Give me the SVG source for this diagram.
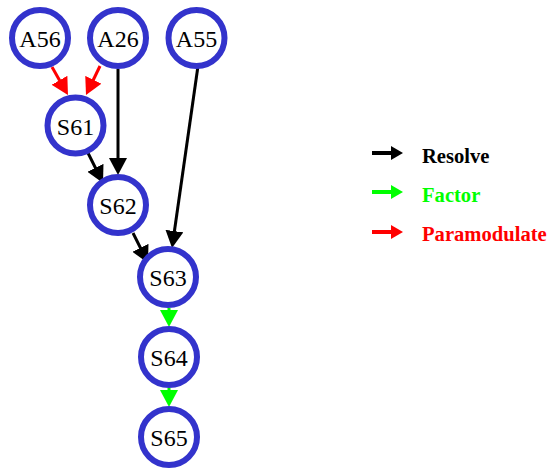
<svg xmlns="http://www.w3.org/2000/svg" width="553" height="472" viewBox="0 0 553 472">
  <style>
    .node circle { fill: #ffffff; stroke: #3333cc; stroke-width: 6; }
    .node text { font-family: "Liberation Serif", "Times New Roman", serif; font-size: 24px; fill: #000000; text-anchor: middle; dominant-baseline: central; }
    .edge { fill: none; stroke-width: 3; }
    .legend .edge { stroke-width: 4; }
    .resolve { stroke: #000000; }
    .factor { stroke: #00ff00; }
    .para { stroke: #ff0000; }
    .legend text { font-family: "Liberation Serif", "Times New Roman", serif; font-size: 20.6px; font-weight: bold; }
  </style>
  <defs>
    <marker id="ah-black" viewBox="0 0 17 18" refX="8" refY="9" markerWidth="17" markerHeight="18" markerUnits="userSpaceOnUse" orient="auto">
      <path d="M0,0 L17,9 L0,18 Z" fill="#000000"/>
    </marker>
    <marker id="ah-green" viewBox="0 0 17 18" refX="8" refY="9" markerWidth="17" markerHeight="18" markerUnits="userSpaceOnUse" orient="auto">
      <path d="M0,0 L17,9 L0,18 Z" fill="#00ff00"/>
    </marker>
    <marker id="ah-red" viewBox="0 0 17 18" refX="8" refY="9" markerWidth="17" markerHeight="18" markerUnits="userSpaceOnUse" orient="auto">
      <path d="M0,0 L17,9 L0,18 Z" fill="#ff0000"/>
    </marker>
    <marker id="lg-black" viewBox="0 0 12 14" refX="6" refY="7" markerWidth="12" markerHeight="14" markerUnits="userSpaceOnUse" orient="auto">
      <path d="M0,0 L12,7 L0,14 Z" fill="#000000"/>
    </marker>
    <marker id="lg-green" viewBox="0 0 12 14" refX="6" refY="7" markerWidth="12" markerHeight="14" markerUnits="userSpaceOnUse" orient="auto">
      <path d="M0,0 L12,7 L0,14 Z" fill="#00ff00"/>
    </marker>
    <marker id="lg-red" viewBox="0 0 12 14" refX="6" refY="7" markerWidth="12" markerHeight="14" markerUnits="userSpaceOnUse" orient="auto">
      <path d="M0,0 L12,7 L0,14 Z" fill="#ff0000"/>
    </marker>
  </defs>

  <!-- inference edges -->
  <g id="edges">
    <path class="edge para" d="M52,67 L63.5,87.2" marker-end="url(#ah-red)"/>
    <path class="edge para" d="M100,66 L89.9,87" marker-end="url(#ah-red)"/>
    <path class="edge resolve" d="M118,69 L118,166" marker-end="url(#ah-black)"/>
    <path class="edge resolve" d="M88,153 L99,175" marker-end="url(#ah-black)"/>
    <path class="edge resolve" d="M198,66 L173.3,239" marker-end="url(#ah-black)"/>
    <path class="edge resolve" d="M133,233 L144,255" marker-end="url(#ah-black)"/>
    <path class="edge factor" d="M169,308 L169,318" marker-end="url(#ah-green)"/>
    <path class="edge factor" d="M169,388 L169,398" marker-end="url(#ah-green)"/>
  </g>

  <!-- clause nodes -->
  <g id="A56" class="node"><circle cx="40" cy="38" r="28"/><text x="40" y="39">A56</text></g>
  <g id="A26" class="node"><circle cx="118" cy="38" r="28"/><text x="118" y="39">A26</text></g>
  <g id="A55" class="node"><circle cx="196.5" cy="38" r="28"/><text x="196.5" y="39">A55</text></g>
  <g id="S61" class="node"><circle cx="75.5" cy="125.5" r="28"/><text x="75.5" y="126.5">S61</text></g>
  <g id="S62" class="node"><circle cx="118" cy="205" r="28"/><text x="118" y="206">S62</text></g>
  <g id="S63" class="node"><circle cx="168" cy="277" r="28"/><text x="168" y="278">S63</text></g>
  <g id="S64" class="node"><circle cx="169" cy="357" r="28"/><text x="169" y="358">S64</text></g>
  <g id="S65" class="node"><circle cx="169" cy="437" r="28"/><text x="169" y="438">S65</text></g>

  <!-- legend -->
  <g id="legend" class="legend">
    <path class="edge resolve" d="M372,153 L397,153" marker-end="url(#lg-black)"/>
    <text x="422" y="163" fill="#000000">Resolve</text>
    <path class="edge factor" d="M372,192 L397,192" marker-end="url(#lg-green)"/>
    <text x="422" y="202" fill="#00ff00">Factor</text>
    <path class="edge para" d="M372,232 L397,232" marker-end="url(#lg-red)"/>
    <text x="422" y="241" fill="#ff0000">Paramodulate</text>
  </g>
</svg>
